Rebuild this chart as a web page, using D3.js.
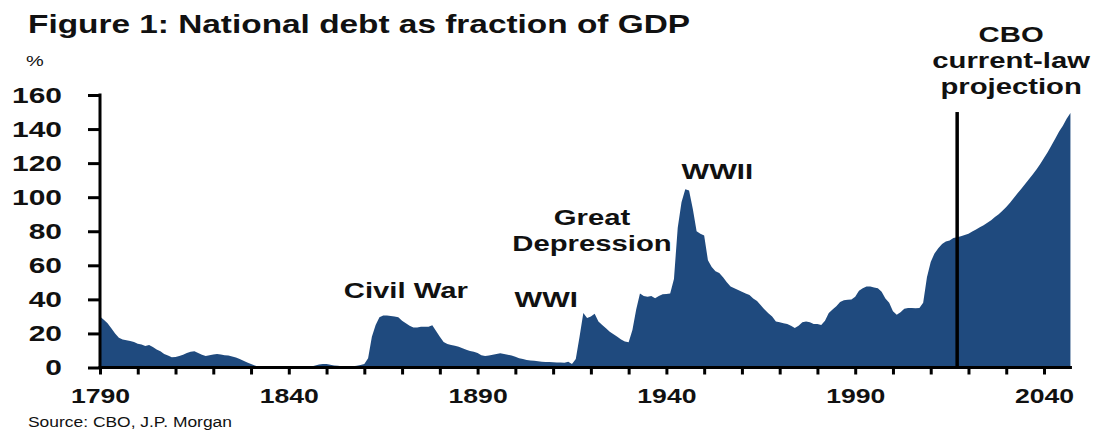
<!DOCTYPE html>
<html>
<head>
<meta charset="utf-8">
<script src="https://cdn.jsdelivr.net/npm/d3@7"></script>
<style>
  html, body { margin: 0; padding: 0; background: #fff; }
  svg text { font-family: "Liberation Sans", Arial, sans-serif; fill: #111; }
</style>
</head>
<body>
<svg id="chart" width="1100" height="435"></svg>
<script>
// ---- Data ----
const firstYear = 1790;
const projectionStart = 2017;
const debtPct = [
  // 1790s
  30, 28, 26, 23, 20, 17.5, 16.5, 16, 15.5, 15,
  // 1800s
  14, 13.5, 12.6, 13.2, 12, 10.5, 9.5, 8, 7, 6,
  // 1810s
  6.2, 6.8, 7.5, 8.5, 9.3, 9.5, 8.5, 7.5, 6.8, 7.2,
  // 1820s
  7.6, 8, 7.6, 7.2, 7, 6.5, 5.8, 5, 4, 3,
  // 1830s
  2, 1.2, 0.5, 0.2, 0.1, 0, 0.1, 0.2, 0.3, 0.3,
  // 1840s
  0.3, 0.4, 0.6, 0.8, 0.6, 0.5, 0.6, 1.2, 1.8, 2,
  // 1850s
  2, 1.6, 1.2, 1, 0.8, 0.7, 0.6, 0.7, 1, 1.5,
  // 1860s
  2, 5.5, 18, 25, 29.5, 30.5, 30.5, 30.2, 30, 29.5,
  // 1870s
  27.5, 26, 24.5, 23.5, 23.5, 24, 24, 24, 24.8, 21.5,
  // 1880s
  18, 15, 13.8, 13.2, 12.7, 12.2, 11.3, 10.4, 9.7, 9.2,
  // 1890s
  8.5, 7.2, 6.8, 7, 7.5, 8, 8.3, 8, 7.5, 7,
  // 1900s
  6.3, 5.5, 5, 4.4, 4.1, 3.9, 3.6, 3.4, 3.3, 3.2,
  // 1910s
  3.1, 3, 2.9, 2.8, 3.4, 2, 5, 18, 32, 29,
  // 1920s
  30, 31.5, 27, 25, 23, 21, 19.5, 18, 16.5, 15.3,
  // 1930s
  14.8, 22, 34, 43.5, 42, 41.5, 42, 40.6, 42, 43,
  // 1940s
  43.2, 43.5, 52, 82, 97, 104.6, 104, 93, 80, 78.5,
  // 1950s
  77.5, 63, 59, 56.5, 55.5, 53, 50, 47.5, 46.5, 45.5,
  // 1960s
  44.5, 43.5, 42.5, 40.5, 39, 36.5, 34, 31.8, 30, 27,
  // 1970s
  26.5, 26, 25.5, 24.5, 23.2, 24.5, 26.5, 27, 26.5, 25.5,
  // 1980s
  25.5, 25, 27.5, 32, 34, 36, 38.5, 39.5, 39.8, 40,
  // 1990s
  41.5, 45, 46.5, 47.5, 47.5, 47, 46.5, 44.5, 40.5, 38,
  // 2000s
  33, 31, 32.5, 34.5, 35, 35, 34.8, 35, 38, 53,
  // 2010s
  62, 67, 70, 72.5, 74, 74.5, 76, 76.5, 77, 77.8,
  // 2020s (projection)
  78.5, 79.8, 81, 82.3, 83.5, 85, 86.5, 88.3, 90, 92,
  // 2030s
  94.3, 96.8, 99.5, 102.3, 105, 107.8, 110.5, 113.3, 116.2, 119.5,
  // 2040s
  123, 126.5, 130.5, 134.5, 138.5, 142, 146, 149.5
];
const yTicks = [0, 20, 40, 60, 80, 100, 120, 140, 160];
const xTickYears = [1790, 1800, 1810, 1820, 1830, 1840, 1850, 1860, 1870, 1880, 1890,
  1900, 1910, 1920, 1930, 1940, 1950, 1960, 1970, 1980, 1990, 2000, 2010, 2020, 2030, 2040];
const xLabelYears = [1790, 1840, 1890, 1940, 1990, 2040];
const annotations = [
  { lines: ["Civil War"], year: 1871, value: 41 },
  { lines: ["WWI"], year: 1908.2, value: 35.7 },
  { lines: ["Great", "Depression"], year: 1920.3, value: 83.5 },
  { lines: ["WWII"], year: 1953.5, value: 110.7 },
  { lines: ["CBO", "current-law", "projection"], year: 2031.3, value: 191 }
];
const titleText = "Figure 1: National debt as fraction of GDP";
const unitText = "%";
const sourceText = "Source: CBO, J.P. Morgan";

const data = debtPct.map((v, i) => ({ year: firstYear + i, value: v }));

// ---- Layout ----
const K = 1.33; // horizontal stretch of the reference typography
const svg = d3.select("#chart");
const x = d3.scaleLinear().domain([1790, 2040]).range([100, 1044]);
const y = d3.scaleLinear().domain([0, 160]).range([367.5, 95]);
const navy = "#1f4a7e";

function stretch(sel, k) {
  sel.each(function () {
    const w = this.getComputedTextLength();
    d3.select(this).attr("textLength", w * k).attr("lengthAdjust", "spacingAndGlyphs");
  });
}

// Area
const area = d3.area()
  .x(d => x(d.year))
  .y0(y(0))
  .y1(d => y(d.value))
  .curve(d3.curveLinear);
svg.append("path").datum(data).attr("d", area).attr("fill", navy);

// Projection vertical line
svg.append("line")
  .attr("x1", x(projectionStart)).attr("x2", x(projectionStart))
  .attr("y1", y(150)).attr("y2", y(0))
  .attr("stroke", "#000").attr("stroke-width", 3.5);

// Y axis
const yAxis = svg.append("g").attr("transform", `translate(${x(1790)},0)`)
  .call(d3.axisLeft(y).tickValues(yTicks).tickSize(12).tickPadding(26).tickSizeOuter(0));
yAxis.select(".domain").remove();
yAxis.selectAll(".tick line").attr("stroke", "#000").attr("stroke-width", 3);
yAxis.selectAll(".tick text")
  .attr("font-size", 22.5).attr("font-weight", "bold").attr("fill", "#111")
  .attr("font-family", "Liberation Sans, Arial, sans-serif")
  .call(stretch, K);
svg.append("line")
  .attr("x1", x(1790)).attr("x2", x(1790))
  .attr("y1", y(160) - 1.5).attr("y2", y(0) + 1.5)
  .attr("stroke", "#000").attr("stroke-width", 3);

// X axis
const xAxis = svg.append("g").attr("transform", `translate(0,${y(0)})`)
  .call(d3.axisBottom(x).tickValues(xTickYears).tickSize(7).tickPadding(14).tickSizeOuter(0)
    .tickFormat(d => xLabelYears.includes(d) ? String(d) : ""));
xAxis.select(".domain").remove();
xAxis.selectAll(".tick line").attr("stroke", "#000").attr("stroke-width", 3);
xAxis.selectAll(".tick text")
  .attr("font-size", 20).attr("font-weight", "bold").attr("fill", "#111")
  .attr("font-family", "Liberation Sans, Arial, sans-serif")
  .call(stretch, K);
svg.append("line")
  .attr("x1", x(1790) - 1.5).attr("x2", x(2047) + 1.5)
  .attr("y1", y(0)).attr("y2", y(0))
  .attr("stroke", "#000").attr("stroke-width", 3);

// Title, unit, source
svg.append("text").attr("x", 28).attr("y", 33)
  .attr("font-size", 25).attr("font-weight", "bold").text(titleText)
  .attr("textLength", 662).attr("lengthAdjust", "spacingAndGlyphs");
svg.append("text").attr("x", 26).attr("y", 66)
  .attr("font-size", 15).text(unitText).call(stretch, K);
svg.append("text").attr("x", 28).attr("y", 427)
  .attr("font-size", 14).attr("fill", "#222").text(sourceText)
  .attr("textLength", 204).attr("lengthAdjust", "spacingAndGlyphs");

// Annotations
annotations.forEach(a => {
  const t = svg.append("text")
    .attr("text-anchor", "middle")
    .attr("font-size", 22).attr("font-weight", "bold");
  a.lines.forEach((ln, i) => {
    t.append("tspan").attr("x", x(a.year)).attr("y", y(a.value) + i * 26).text(ln);
  });
  t.selectAll("tspan").call(stretch, K);
});
</script>
</body>
</html>
